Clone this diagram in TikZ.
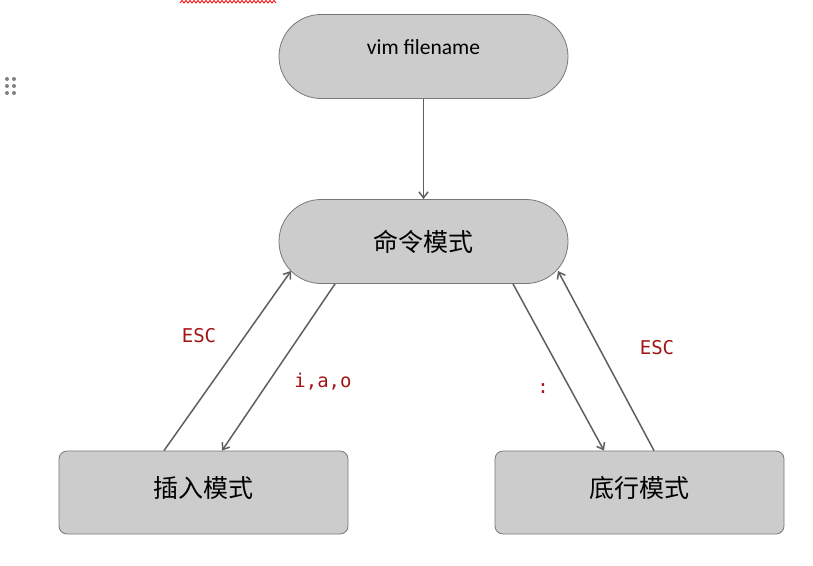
\documentclass[tikz,border=0pt]{standalone}
\usepackage{fontspec}
\setmainfont{Carlito}
\setmonofont{DejaVu Sans Mono}
\newfontfamily\cjk{Noto Sans CJK SC}
\usepackage{xcolor}
\usetikzlibrary{arrows.meta,calc}
\definecolor{boxfill}{HTML}{CCCCCC}
\definecolor{boxline}{HTML}{777777}
\definecolor{arrowgray}{HTML}{5F5F5F}
\definecolor{keyred}{HTML}{A31515}

\begin{document}
\begin{tikzpicture}[x=1pt,y=-1pt,
  stadium/.style={draw=boxline,fill=boxfill,line width=0.8pt,minimum width=289pt,minimum height=84pt,rounded corners=42pt,inner sep=0pt},
  modebox/.style={draw=boxline,fill=boxfill,line width=0.8pt,minimum width=289pt,minimum height=83pt,rounded corners=8pt,inner sep=0pt},
  modetext/.style={font=\cjk\fontsize{25}{25}\selectfont},
  flow/.style={draw=arrowgray,line width=1.5pt,-{Straight Barb[length=6pt,width=9pt]}},
  key/.style={font=\ttfamily\fontsize{19}{19}\selectfont,text=keyred}]
  \useasboundingbox (0,0) rectangle (813,565);
  % editor marks
  \draw[red,line width=0.8pt] (180,3) \foreach \i in {0,...,23} { -- ({182+4*\i},0.5) -- ({184+4*\i},3) };
  \foreach \dx in {7,14}
    \foreach \dy in {79,86,93}
      \fill[gray] (\dx,\dy) circle[radius=2pt];
  % modes
  \node[stadium,label={[font=\fontsize{21.5}{21.5}\selectfont,yshift=9.5pt]center:vim filename}] (vim) at (423.5,56.5) {};
  \node[stadium,modetext] (cmd) at (423.5,241.5) {命令模式};
  \node[modebox,label={[modetext,yshift=4pt]center:插入模式}] (ins) at (203.5,492.5) {};
  \node[modebox,label={[modetext,yshift=4pt]center:底行模式}] (last) at (639.5,492.5) {};
  % switches
  \draw[flow] (vim.south) -- (cmd.north);
  \draw[flow] ($(ins.north)+(-39.5,0)$) -- ($(cmd.center)+(-132.5,29.5)$);
  \draw[flow] ($(cmd.south)+(-88.5,0)$) -- ($(ins.north)+(18.5,0)$);
  \draw[flow] ($(cmd.south)+(89.5,0)$) -- ($(last.north)+(-35.5,0)$);
  \draw[flow] ($(last.north)+(14.5,0)$) -- ($(cmd.center)+(134.5,29.5)$);
  % keys
  \node[key] (escins) at (199,336) {ESC};
  \node[key] (iao) at (323,382) {i,a,o};
  \node[key] (colon) at (543,389) {:};
  \node[key] (esclast) at (657,348) {ESC};
\end{tikzpicture}
\end{document}
